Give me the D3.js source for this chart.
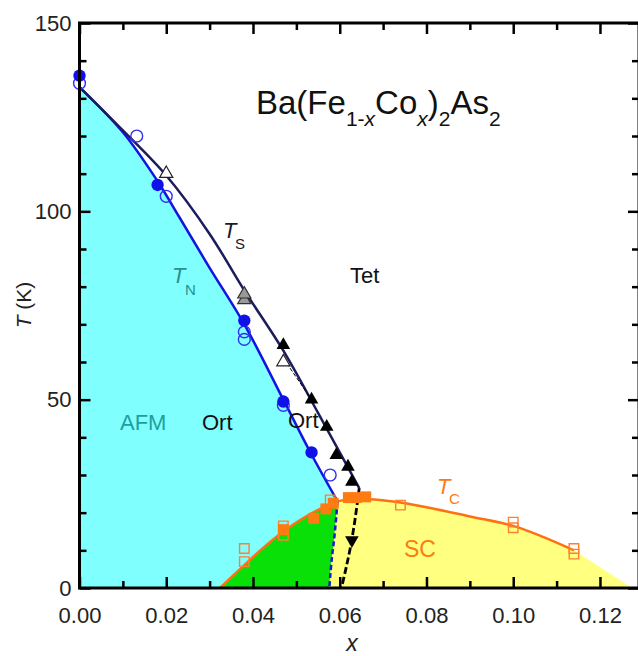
<!DOCTYPE html>
<meta charset="utf-8">
<html>
  <head>
  <title>Ba(Fe1-xCox)2As2 phase diagram</title>
    <style>
      body {
        margin: 0;
        background: #fff;
        font-family: 'Liberation Sans', Arial, sans-serif;
      }
      .tick text {
        font-family: 'Liberation Sans', Arial, sans-serif;
        fill: #222;
      }
      .lbl {
        font-family: 'Liberation Sans', Arial, sans-serif;
      }
    </style>
  </head>
  <body>
<div id="chart"></div>

<script src="https://d3js.org/d3.v7.min.js"></script>
<script>

// phase boundaries (x, T in K)
var tsCurve = [[0,133],[0.01,121.5],[0.02,109.5],[0.03,94],[0.038,79],[0.047,63],[0.055,46.5],[0.06,36],[0.0645,26.5]];
var tnCurve = [[0,133],[0.01,121],[0.018,108],[0.023,98.5],[0.03,85],[0.038,70],[0.047,50],[0.053,36.5],[0.0595,23]];
var tcCurve = [[0.0324,0],[0.037,5],[0.042,10.3],[0.047,15],[0.053,19.5],[0.0595,23],[0.064,23.6],[0.068,23.5],[0.074,22.7],[0.082,21],[0.09,19],[0.1,16.5],[0.107,13.5],[0.114,10]];
var scEnd = [0.1274,0];
var blueDash = [[0.0595,23],[0.0588,14],[0.0581,7],[0.0576,0]];
var blackDash = [[0.0645,26.5],[0.0635,18],[0.0625,11],[0.0614,5],[0.0604,0]];
var thinDash = [[0.047,61],[0.0535,50]];

// measured points
var tnFilled = [[0,136],[0.018,107],[0.038,71],[0.047,49.5],[0.0535,36]];
var tnOpen = [[0,134],[0.0132,120],[0.02,104],[0.038,68],[0.038,66],[0.047,48.5],[0.0578,30]];
var tsOpen = [[0.02,110],[0.047,60]];
var tsGrey = [[0.038,76.5],[0.038,78]];
var tsFilled = [[0.047,64.5],[0.0535,50],[0.057,42.8],[0.0592,35.3],[0.0619,32.2],[0.0628,28.2]];
var tsDown = [[0.0628,12.7]];
var tcFilled = [[0.047,15.5],[0.054,18.5],[0.0568,21],[0.0585,22.5],[0.062,24],[0.0638,24],[0.066,24.2]];
var tcOpen = [[0.038,10.5],[0.038,7],[0.047,16.5],[0.047,14],[0.0578,23.4],[0.074,22],[0.1,17.5],[0.1,16],[0.114,10.5],[0.114,9]];

// axis ticks
var xMajor = [0, 0.02, 0.04, 0.06, 0.08, 0.10, 0.12];
var xMinor = [0.01, 0.03, 0.05, 0.07, 0.09, 0.11];
var yMajor = [0, 50, 100, 150];
var yMinor = [10, 20, 30, 40, 60, 70, 80, 90, 110, 120, 130, 140];

var width = 638;
var height = 656;

var x = d3.scaleLinear().domain([0, 0.129]).range([79.5, 639]);
var y = d3.scaleLinear().domain([0, 150]).range([588, 23]);

var svg = d3.select("#chart")
    .append("svg")
      .attr("width", width)
      .attr("height", height);

var line = d3.line()
    .x(function(d) { return x(d[0]); })
    .y(function(d) { return y(d[1]); })
    .curve(d3.curveCatmullRom.alpha(0.5));

function seg(pts) { return line(pts); }
function cont(pts) { return line(pts).replace(/^M/, "L"); }

var tcLeft = tcCurve.filter(function(d) { return d[0] <= 0.0595; });
var tcRight = tcCurve.filter(function(d) { return d[0] >= 0.0595; });

// region fills
svg.append("path")
    .attr("d", seg(tnCurve) + cont(tcLeft.slice().reverse()) + "L" + x(0) + "," + y(0) + "Z")
    .style("fill", "#80ffff");

svg.append("path")
    .attr("d", seg(tcLeft) + cont(blueDash) + "Z")
    .style("fill", "#08e008");

svg.append("path")
    .attr("d", seg(blueDash.slice().reverse()) + cont(tcRight) + "L" + x(scEnd[0]) + "," + y(scEnd[1]) + "Z")
    .style("fill", "#ffff80");

// boundary lines
svg.append("path").attr("d", seg(tcCurve))
    .style("fill", "none").style("stroke", "#ff7010").style("stroke-width", 2.5);
svg.append("path").attr("d", seg(tnCurve))
    .style("fill", "none").style("stroke", "#1414e0").style("stroke-width", 2.5);
svg.append("path").attr("d", seg(tsCurve))
    .style("fill", "none").style("stroke", "#1c1c5c").style("stroke-width", 2.5);
svg.append("path").attr("d", seg(blueDash))
    .style("fill", "none").style("stroke", "#1414e0").style("stroke-width", 2.5)
    .style("stroke-dasharray", "5,3");
svg.append("path").attr("d", seg(blackDash))
    .style("fill", "none").style("stroke", "#000").style("stroke-width", 2.8)
    .style("stroke-dasharray", "7,3");
svg.append("path").attr("d", d3.line().x(function(d){return x(d[0]);}).y(function(d){return y(d[1]);})(thinDash))
    .style("fill", "none").style("stroke", "#000").style("stroke-width", 1)
    .style("stroke-dasharray", "4,2");

// markers
function marks(data, type, size, fill, stroke, sw, rot) {
  svg.append("g").selectAll("path")
    .data(data).enter()
    .append("path")
      .attr("d", d3.symbol(type, size))
      .attr("transform", function(d) {
        return "translate(" + x(d[0]) + "," + y(d[1]) + ")" + (rot ? " rotate(" + rot + ")" : "");
      })
      .style("fill", fill)
      .style("stroke", stroke)
      .style("stroke-width", sw);
}

marks(tcOpen, d3.symbolSquare, 90, "none", "#ff8030", 1.4);
marks(tcFilled, d3.symbolSquare, 120, "#ff7a10", "none", 0);
marks(tnOpen, d3.symbolCircle, 110, "none", "#3030f0", 1.4);
marks(tnFilled, d3.symbolCircle, 120, "#1010e8", "none", 0);
marks(tsOpen, d3.symbolTriangle, 75, "#fff", "#222", 1.2);
marks(tsGrey, d3.symbolTriangle, 75, "#999", "#333", 1.2);
marks(tsFilled, d3.symbolTriangle, 80, "#000", "none", 0);
marks(tsDown, d3.symbolTriangle, 80, "#000", "none", 0, 180);

// labels
function label(px, py, size, color) {
  return svg.append("text").attr("class", "lbl")
    .attr("x", px).attr("y", py)
    .style("font-size", size + "px")
    .style("fill", color);
}

label(120, 430, 22, "#1f9e9e").text("AFM");
label(202, 430, 22, "#111").text("Ort");
label(288, 428, 22, "#111").text("Ort");
label(350, 283, 22, "#111").text("Tet");
label(404, 557, 23, "#ff7a10").text("SC");

var tn = label(172, 283, 22, "#2a9090");
tn.append("tspan").style("font-style", "italic").text("T");
tn.append("tspan").attr("x", 185).attr("y", 295).style("font-size", "15px").text("N");

var ts = label(223, 238, 22, "#1a1a2a");
ts.append("tspan").style("font-style", "italic").text("T");
ts.append("tspan").attr("x", 235).attr("y", 249).style("font-size", "15px").text("S");

var tc = label(437, 494, 22, "#ff7a10");
tc.append("tspan").style("font-style", "italic").text("T");
tc.append("tspan").attr("x", 449).attr("y", 504).style("font-size", "15px").text("C");

// compound name
var title = label(256, 114, 33, "#111");
title.append("tspan").text("Ba(Fe");
title.append("tspan").attr("dy", 12).style("font-size", "21px").text("1-");
title.append("tspan").style("font-size", "21px").style("font-style", "italic").text("x");
title.append("tspan").attr("dy", -12).text("Co");
title.append("tspan").attr("dy", 12).style("font-size", "21px").style("font-style", "italic").text("x");
title.append("tspan").attr("dy", -12).text(")");
title.append("tspan").attr("dy", 12).style("font-size", "21px").text("2");
title.append("tspan").attr("dy", -12).text("As");
title.append("tspan").attr("dy", 12).style("font-size", "21px").text("2");

// axes
function noDomain(g) { g.select(".domain").remove(); }

svg.append("g").attr("transform", "translate(0," + y(0) + ")")
    .call(d3.axisBottom(x).tickValues(xMajor).tickSize(-11).tickPadding(19).tickFormat(d3.format(".2f")))
    .call(noDomain)
    .style("font-size", "22px");
svg.append("g").attr("transform", "translate(0," + y(0) + ")")
    .call(d3.axisBottom(x).tickValues(xMinor).tickSize(-7).tickFormat(""))
    .call(noDomain);
svg.append("g").attr("transform", "translate(0," + y(150) + ")")
    .call(d3.axisTop(x).tickValues(xMajor).tickSize(-11).tickFormat(""))
    .call(noDomain);
svg.append("g").attr("transform", "translate(0," + y(150) + ")")
    .call(d3.axisTop(x).tickValues(xMinor).tickSize(-7).tickFormat(""))
    .call(noDomain);

svg.append("g").attr("transform", "translate(" + x(0) + ",0)")
    .call(d3.axisLeft(y).tickValues(yMajor).tickSize(-11).tickPadding(8))
    .call(noDomain)
    .style("font-size", "22px");
svg.append("g").attr("transform", "translate(" + x(0) + ",0)")
    .call(d3.axisLeft(y).tickValues(yMinor).tickSize(-7).tickFormat(""))
    .call(noDomain);
svg.append("g").attr("transform", "translate(" + x(0.129) + ",0)")
    .call(d3.axisRight(y).tickValues(yMajor).tickSize(-11).tickFormat(""))
    .call(noDomain);
svg.append("g").attr("transform", "translate(" + x(0.129) + ",0)")
    .call(d3.axisRight(y).tickValues(yMinor).tickSize(-7).tickFormat(""))
    .call(noDomain);

svg.selectAll(".tick line").style("stroke", "#000").style("stroke-width", 2.5);

svg.append("rect")
    .attr("x", x(0)).attr("y", y(150))
    .attr("width", x(0.129) - x(0)).attr("height", y(0) - y(150))
    .style("fill", "none").style("stroke", "#000").style("stroke-width", 3);

// axis titles
var yl = svg.append("text").attr("class", "lbl")
    .attr("transform", "translate(31,305) rotate(-90)")
    .attr("text-anchor", "middle")
    .style("font-size", "21px").style("fill", "#222");
yl.append("tspan").style("font-style", "italic").text("T");
yl.append("tspan").text(" (K)");

svg.append("text").attr("class", "lbl")
    .attr("x", 352).attr("y", 651)
    .attr("text-anchor", "middle")
    .style("font-size", "23px").style("font-style", "italic").style("fill", "#222")
    .text("x");

</script>
  </body>
</html>
